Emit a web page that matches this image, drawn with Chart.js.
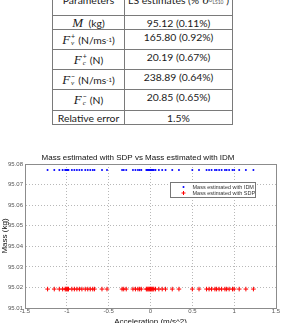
<!DOCTYPE html>
<html>
<head>
<meta charset="utf-8">
<script src="https://cdn.jsdelivr.net/npm/chart.js@4"></script>
<style>
  html, body { margin: 0; padding: 0; background: #fff; width: 281px; height: 323px; overflow: hidden; position: relative; }
  .tbl {
    position: absolute; left: 52px; top: -12px;
    display: grid; grid-template-columns: 72px 108px;
    grid-template-rows: 27px 14px 20px 20px 20px 21px 14px;
    border-left: 1px solid #7a7a7a; border-top: 1px solid #7a7a7a;
    font-family: Lato, "Open Sans", sans-serif; font-size: 10.4px; color: #1a1a1a;
  }
  .tbl > div {
    box-sizing: border-box; border-right: 1px solid #7a7a7a; border-bottom: 1px solid #7a7a7a;
    display: flex; justify-content: center; align-items: center; white-space: nowrap; line-height: 12px;
  }
  .tbl > div.r { align-items: flex-start; padding-top: 1px; }
  .tbl > div.h { align-items: flex-start; padding-top: 5px; }
  .m { font-family: "Liberation Serif", serif; font-style: italic; font-size: 13px; }
  .st { display: inline-flex; flex-direction: column; font-size: 7px; line-height: 7px; margin-left: 1px; margin-right: 3px; vertical-align: middle; }
  .st i { font-family: "Liberation Serif", serif; }
  sup.u { font-size: 6px; }
  .sg { font-family: "Liberation Serif", serif; font-style: italic; font-size: 13px; }
  .sb { font-size: 6px; vertical-align: -4px; color: #555; }
  #wrap { position: absolute; left: 0; top: 145px; width: 281px; height: 182px; }
</style>
</head>
<body>
<div class="tbl">
  <div class="h">Parameters</div>
  <div class="h">LS estimates (%<span class="sg">&nbsp;σ</span><span class="sb">θ̂<sub>LS10</sub></span>&nbsp;)</div>
  <div><span class="m">M</span>&nbsp;&nbsp;(kg)</div>
  <div class="r">95.12 (0.11%)</div>
  <div><span class="m">F</span><span class="st"><span>+</span><i>v</i></span>(N/ms<sup class="u">-1</sup>)</div>
  <div class="r">165.80 (0.92%)</div>
  <div><span class="m">F</span><span class="st"><span>+</span><i>c</i></span>(N)</div>
  <div class="r">20.19 (0.67%)</div>
  <div><span class="m">F</span><span class="st"><span>−</span><i>v</i></span>(N/ms<sup class="u">-1</sup>)</div>
  <div class="r">238.89 (0.64%)</div>
  <div><span class="m">F</span><span class="st"><span>−</span><i>c</i></span>(N)</div>
  <div class="r">20.85 (0.65%)</div>
  <div>Relative error</div>
  <div>1.5%</div>
</div>
<div id="wrap"><canvas id="massChart"></canvas></div>
<script>
// acceleration samples (m/s^2)
const accel = [
  -1.23, -1.15, -1.09, -1.05, -1.02, -1.01, -1.00, -0.99, -0.98, -0.94,
  -0.91, -0.88, -0.85, -0.82, -0.78, -0.75, -0.72, -0.69, -0.67, -0.58,
  -0.52, -0.34, -0.32, -0.29, -0.21, -0.18, -0.15, -0.13, -0.11, -0.05,
  -0.04, -0.03, -0.02, -0.01, 0.00, 0.01, 0.02, 0.03, 0.04, 0.06,
  0.10, 0.14, 0.18, 0.26, 0.34, 0.50, 0.58, 0.67, 0.70, 0.73,
  0.77, 0.79, 0.82, 0.85, 0.89, 0.91, 0.94, 0.98, 1.00, 1.06,
  1.14, 1.23
];
// mass estimated with IDM (kg)
const massIDM = [
  95.0771, 95.0771, 95.0771, 95.0771, 95.0771, 95.0771, 95.0771, 95.0771, 95.0771, 95.0771,
  95.0771, 95.0771, 95.0771, 95.0771, 95.0771, 95.0771, 95.0771, 95.0771, 95.0771, 95.0771,
  95.0771, 95.0771, 95.0771, 95.0771, 95.0771, 95.0771, 95.0771, 95.0771, 95.0771, 95.0771,
  95.0771, 95.0771, 95.0771, 95.0771, 95.0771, 95.0771, 95.0771, 95.0771, 95.0771, 95.0771,
  95.0771, 95.0771, 95.0771, 95.0771, 95.0771, 95.0771, 95.0771, 95.0771, 95.0771, 95.0771,
  95.0771, 95.0771, 95.0771, 95.0771, 95.0771, 95.0771, 95.0771, 95.0771, 95.0771, 95.0771,
  95.0771, 95.0771
];
// mass estimated with SDP (kg)
const massSDP = [
  95.0192, 95.0192, 95.0192, 95.0192, 95.0192, 95.0192, 95.0192, 95.0192, 95.0192, 95.0192,
  95.0192, 95.0192, 95.0192, 95.0192, 95.0192, 95.0192, 95.0192, 95.0192, 95.0192, 95.0192,
  95.0192, 95.0192, 95.0192, 95.0192, 95.0192, 95.0192, 95.0192, 95.0192, 95.0192, 95.0192,
  95.0192, 95.0192, 95.0192, 95.0192, 95.0192, 95.0192, 95.0192, 95.0192, 95.0192, 95.0192,
  95.0192, 95.0192, 95.0192, 95.0192, 95.0192, 95.0192, 95.0192, 95.0192, 95.0192, 95.0192,
  95.0192, 95.0192, 95.0192, 95.0192, 95.0192, 95.0192, 95.0192, 95.0192, 95.0192, 95.0192,
  95.0192, 95.0192
];
const seriesLabels = ["Mass estimated with IDM", "Mass estimated with SDP"];
const xTicks = [-1.5, -1, -0.5, 0, 0.5, 1, 1.5];
const yTicks = [95.01, 95.02, 95.03, 95.04, 95.05, 95.06, 95.07, 95.08];

const toPoints = (ys) => accel.map((x, i) => ({ x: x, y: ys[i] }));

// box around the axes + legend inside the plot, matlab style
const boxLegend = {
  id: "boxLegend",
  afterDraw(chart) {
    const ctx = chart.ctx;
    const a = chart.chartArea;
    ctx.save();
    ctx.strokeStyle = "#8c8c8c";
    ctx.lineWidth = 1;
    ctx.strokeRect(Math.round(a.left) + 0.5, Math.round(a.top) + 0.5, Math.round(a.right - a.left), Math.round(a.bottom - a.top));

    const bw = 85, bh = 15;
    const bx = Math.round(a.right - 21 - bw) + 0.5, by = Math.round(a.top + 18) + 0.5;
    ctx.fillStyle = "#fff";
    ctx.fillRect(bx, by, bw, bh);
    ctx.strokeStyle = "#777";
    ctx.strokeRect(bx, by, bw, bh);
    ctx.font = "5.5px 'Liberation Sans', Arial, sans-serif";
    ctx.textBaseline = "middle";
    chart.data.datasets.forEach((ds, i) => {
      const yy = by + 4.5 + i * 6;
      const mx = bx + 13;
      if (ds.pointStyle === "cross") {
        ctx.strokeStyle = ds.borderColor;
        ctx.beginPath();
        ctx.moveTo(mx - 2, yy); ctx.lineTo(mx + 2, yy);
        ctx.moveTo(mx, yy - 2); ctx.lineTo(mx, yy + 2);
        ctx.stroke();
      } else {
        ctx.fillStyle = ds.backgroundColor;
        ctx.beginPath(); ctx.arc(mx, yy, 1, 0, Math.PI * 2); ctx.fill();
      }
      ctx.fillStyle = "#333";
      ctx.fillText(ds.label, bx + 22, yy);
    });
    ctx.restore();
  }
};

new Chart(document.getElementById("massChart"), {
  type: "scatter",
  data: {
    datasets: [
      {
        label: seriesLabels[0],
        data: toPoints(massIDM),
        pointStyle: "circle",
        radius: 1,
        borderWidth: 0,
        backgroundColor: "#0000ff",
        borderColor: "#0000ff"
      },
      {
        label: seriesLabels[1],
        data: toPoints(massSDP),
        pointStyle: "cross",
        radius: 2.3,
        borderWidth: 1,
        backgroundColor: "#ff0000",
        borderColor: "#ff0000"
      }
    ]
  },
  plugins: [boxLegend],
  options: {
    responsive: true,
    maintainAspectRatio: false,
    animation: false,
    layout: { padding: { left: 0, right: 5, top: 0, bottom: 0 } },
    plugins: {
      legend: { display: false },
      tooltip: { enabled: false },
      title: {
        display: true,
        text: "Mass estimated with SDP vs Mass estimated with IDM",
        color: "#111",
        font: { family: "'Liberation Sans', Arial, sans-serif", size: 8, weight: "normal" },
        padding: { top: 8, bottom: 1.4 }
      }
    },
    scales: {
      x: {
        type: "linear",
        min: -1.5, max: 1.5,
        afterBuildTicks: (s) => { s.ticks = xTicks.map(v => ({ value: v })); },
        afterFit: (s) => { s.height = 19; },
        ticks: {
          color: "#555", padding: 0, maxRotation: 0,
          font: { family: "'Liberation Sans', Arial, sans-serif", size: 6 },
          callback: (v) => String(v)
        },
        grid: { color: "rgba(0,0,0,0.28)", drawTicks: false },
        border: { color: "#8c8c8c", dash: [1, 2] },
        title: {
          display: true, text: "Acceleration (m/s^2)", color: "#111", padding: 0,
          font: { family: "'Liberation Sans', Arial, sans-serif", size: 8 }
        }
      },
      y: {
        type: "linear",
        min: 95.01, max: 95.08,
        afterBuildTicks: (s) => { s.ticks = yTicks.map(v => ({ value: v })); },
        afterFit: (s) => { s.width = 25; },
        ticks: {
          color: "#555", padding: 2,
          font: { family: "'Liberation Sans', Arial, sans-serif", size: 6 },
          callback: (v) => v.toFixed(2)
        },
        grid: { color: "rgba(0,0,0,0.28)", drawTicks: false },
        border: { color: "#8c8c8c", dash: [1, 2] },
        title: {
          display: true, text: "Mass (kg)", color: "#111", padding: 0,
          font: { family: "'Liberation Sans', Arial, sans-serif", size: 8 }
        }
      }
    }
  }
});
</script>
</body>
</html>
